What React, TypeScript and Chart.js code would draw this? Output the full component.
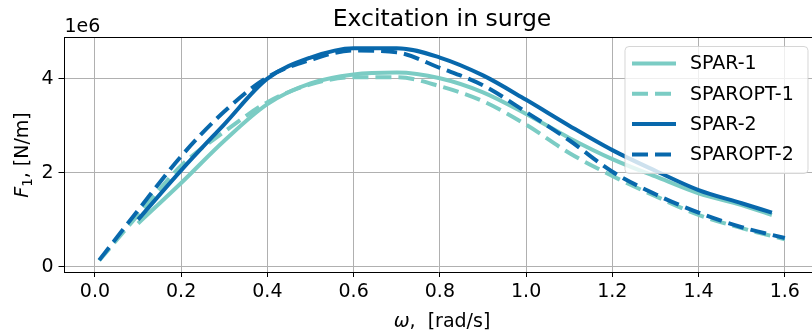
import React, { useEffect, useRef } from 'react';
import { Chart, registerables } from 'chart.js';

Chart.register(...registerables);

// ---- data (forces in units of 1e6 N/m) ----
const omegaSpar = [0.1, 0.2, 0.3, 0.4, 0.5, 0.6, 0.7, 0.8, 0.9, 1.0, 1.1, 1.2, 1.3, 1.4, 1.5, 1.57];
const spar1 = [0.92, 1.78, 2.68, 3.46, 3.9, 4.09, 4.13, 4.01, 3.71, 3.25, 2.74, 2.29, 1.92, 1.56, 1.31, 1.1];
const spar2 = [1.0, 2.05, 3.03, 4.0, 4.45, 4.65, 4.65, 4.45, 4.07, 3.55, 3.0, 2.48, 2.04, 1.63, 1.35, 1.15];

const omegaOpt = [0.01, 0.1, 0.2, 0.3, 0.4, 0.5, 0.6, 0.7, 0.8, 0.9, 1.0, 1.1, 1.2, 1.3, 1.4, 1.5, 1.6];
const sparopt1 = [0.13, 1.1, 2.15, 2.87, 3.5, 3.88, 4.03, 4.03, 3.84, 3.52, 3.02, 2.42, 1.93, 1.5, 1.1, 0.82, 0.58];
const sparopt2 = [0.14, 1.2, 2.35, 3.3, 4.03, 4.4, 4.6, 4.56, 4.23, 3.86, 3.29, 2.69, 2.02, 1.54, 1.15, 0.84, 0.61];

const seriesLabels = ['SPAR-1', 'SPAROPT-1', 'SPAR-2', 'SPAROPT-2'];
const xTickValues = [0, 0.2, 0.4, 0.6, 0.8, 1.0, 1.2, 1.4, 1.6];
const yTickValues = [0, 2, 4];
const titleText = 'Excitation in surge';
const offsetText = '1e6';

const TEAL = '#7bccc4';
const BLUE = '#0868ac';
const FONT = '"DejaVu Sans", sans-serif';
const DASH = [16, 7];

const toPts = (xs: number[], ys: number[]) => xs.map((x, i) => ({ x, y: ys[i] }));

const overlayPlugin = {
  id: 'overlay',
  afterDatasetsDraw(chart: any) {
    const ctx = chart.ctx;
    const ca = chart.chartArea;
    // top spine
    ctx.save();
    ctx.strokeStyle = '#000';
    ctx.lineWidth = 1;
    ctx.beginPath();
    ctx.moveTo(ca.left, ca.top + 0.5);
    ctx.lineTo(ca.right, ca.top + 0.5);
    ctx.stroke();
    ctx.restore();

    // legend
    const bx = 625, by = 46.5, bw = 183, bh = 127, r = 4;
    ctx.save();
    ctx.beginPath();
    ctx.moveTo(bx + r, by);
    ctx.lineTo(bx + bw - r, by);
    ctx.quadraticCurveTo(bx + bw, by, bx + bw, by + r);
    ctx.lineTo(bx + bw, by + bh - r);
    ctx.quadraticCurveTo(bx + bw, by + bh, bx + bw - r, by + bh);
    ctx.lineTo(bx + r, by + bh);
    ctx.quadraticCurveTo(bx, by + bh, bx, by + bh - r);
    ctx.lineTo(bx, by + r);
    ctx.quadraticCurveTo(bx, by, bx + r, by);
    ctx.closePath();
    ctx.fillStyle = 'rgba(255,255,255,0.8)';
    ctx.fill();
    ctx.strokeStyle = 'rgba(204,204,204,0.8)';
    ctx.lineWidth = 1;
    ctx.stroke();
    chart.data.datasets.forEach((ds: any, i: number) => {
      const y = 63.5 + i * 30.3;
      ctx.beginPath();
      ctx.strokeStyle = ds.borderColor;
      ctx.lineWidth = ds.borderWidth;
      ctx.lineCap = 'butt';
      ctx.setLineDash(ds.borderDash || []);
      ctx.moveTo(632, y);
      ctx.lineTo(676, y);
      ctx.stroke();
      ctx.setLineDash([]);
      ctx.fillStyle = '#000';
      ctx.font = `19px ${FONT}`;
      ctx.textBaseline = 'middle';
      ctx.textAlign = 'left';
      ctx.fillText(ds.label, 690, y + 1);
    });
    ctx.restore();
  },
  afterDraw(chart: any) {
    const ctx = chart.ctx;
    const cx = 442;
    ctx.save();
    ctx.fillStyle = '#000';
    ctx.textBaseline = 'alphabetic';
    // title
    ctx.font = `23.5px ${FONT}`;
    ctx.textAlign = 'center';
    ctx.fillText(titleText, cx, 26);
    // offset text
    ctx.font = `19px ${FONT}`;
    ctx.textAlign = 'left';
    ctx.fillText(offsetText, 64.5, 32);

    // x label: ω,  [rad/s]
    const italic = `italic 19px ${FONT}`;
    const normal = `19px ${FONT}`;
    ctx.font = italic;
    const wOm = ctx.measureText('ω').width;
    ctx.font = normal;
    const xRest = ',  [rad/s]';
    const wRest = ctx.measureText(xRest).width;
    const sx = cx - (wOm + wRest) / 2;
    ctx.font = italic;
    ctx.fillText('ω', sx, 327);
    ctx.font = normal;
    ctx.fillText(xRest, sx + wOm, 327);

    // y label: F_1, [N/m] rotated
    ctx.translate(27.5, 155);
    ctx.rotate(-Math.PI / 2);
    ctx.font = italic;
    const wF = ctx.measureText('F').width;
    ctx.font = `13.5px ${FONT}`;
    const w1 = ctx.measureText('1').width;
    ctx.font = normal;
    const yRest = ', [N/m]';
    const wY = ctx.measureText(yRest).width;
    const s = -(wF + w1 + wY) / 2;
    ctx.font = italic;
    ctx.fillText('F', s, 0);
    ctx.font = `13.5px ${FONT}`;
    ctx.fillText('1', s + wF, 4);
    ctx.font = normal;
    ctx.fillText(yRest, s + wF + w1, 0);
    ctx.restore();
  },
};

export default function App() {
  const ref = useRef<HTMLCanvasElement | null>(null);
  useEffect(() => {
    if (!ref.current) return;
    const chart = new Chart(ref.current, {
      type: 'line',
      data: {
        datasets: [
          { label: seriesLabels[0], data: toPts(omegaSpar, spar1), borderColor: TEAL, borderWidth: 4, order: 4 },
          { label: seriesLabels[1], data: toPts(omegaOpt, sparopt1), borderColor: TEAL, borderWidth: 4, borderDash: DASH, order: 3 },
          { label: seriesLabels[2], data: toPts(omegaSpar, spar2), borderColor: BLUE, borderWidth: 4, order: 2 },
          { label: seriesLabels[3], data: toPts(omegaOpt, sparopt2), borderColor: BLUE, borderWidth: 4, borderDash: DASH, order: 1 },
        ] as any,
      },
      options: {
        animation: false,
        responsive: false,
        devicePixelRatio: 1,
        layout: { padding: { top: 37, left: 0, right: 0, bottom: 0 } },
        elements: {
          point: { radius: 0 },
          line: { cubicInterpolationMode: 'monotone', fill: false, borderCapStyle: 'butt', borderJoinStyle: 'round' },
        },
        plugins: {
          legend: { display: false },
          title: { display: false },
          tooltip: { enabled: false },
        },
        scales: {
          x: {
            type: 'linear',
            min: -0.0705,
            max: 1.663,
            afterBuildTicks: (scale: any) => {
              scale.ticks = xTickValues.map((v) => ({ value: v }));
            },
            afterFit: (scale: any) => {
              scale.height = 60;
            },
            ticks: {
              color: '#000',
              font: { family: FONT, size: 19 },
              padding: 4,
              maxRotation: 0,
              callback: (v: any) => Number(v).toFixed(1),
            },
            grid: { color: '#b0b0b0', lineWidth: 1, tickColor: '#000', tickLength: 5, tickWidth: 1 },
            border: { display: true, color: '#000', width: 1 },
          },
          y: {
            type: 'linear',
            min: -0.113,
            max: 4.887,
            afterBuildTicks: (scale: any) => {
              scale.ticks = yTickValues.map((v) => ({ value: v }));
            },
            afterFit: (scale: any) => {
              scale.width = 64.5;
            },
            ticks: {
              color: '#000',
              font: { family: FONT, size: 19 },
              padding: 5,
              callback: (v: any) => String(v),
            },
            grid: { color: '#b0b0b0', lineWidth: 1, tickColor: '#000', tickLength: 6, tickWidth: 1 },
            border: { display: true, color: '#000', width: 1 },
          },
        },
      },
      plugins: [overlayPlugin],
    });
    return () => chart.destroy();
  }, []);
  return (
    <div style={{ position: 'fixed', left: 0, top: 0, width: 812, height: 332, background: '#fff' }}>
      <canvas ref={ref} width={812} height={332} />
    </div>
  );
}
